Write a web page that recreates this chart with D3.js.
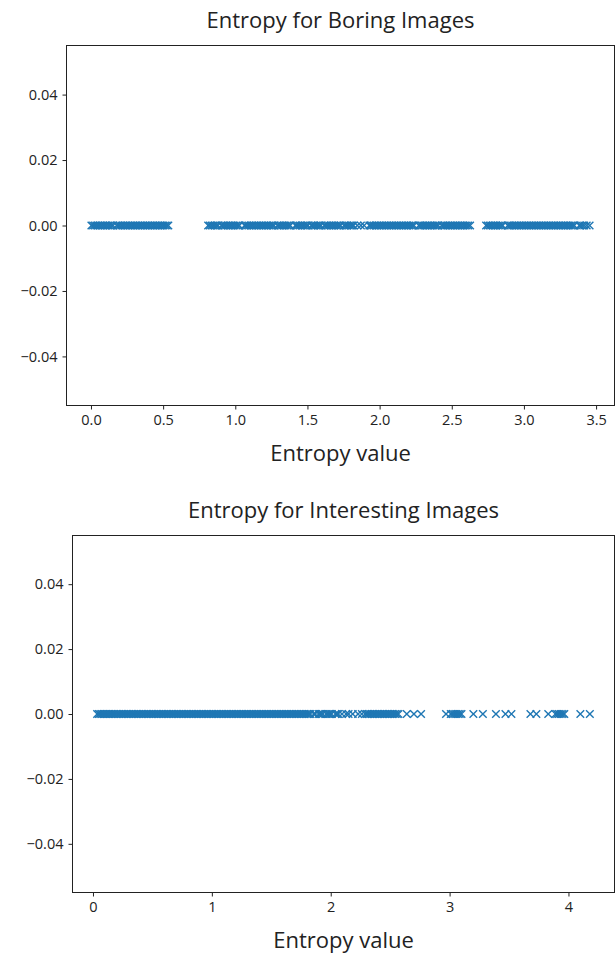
<!DOCTYPE html>
<html>
<head>
<meta charset="utf-8">
<script src="https://cdn.jsdelivr.net/npm/d3@7"></script>
<style>
  body { margin: 0; background: #fff; }
  text { font-family: "Open Sans", "Noto Sans", sans-serif; fill: #222; }
</style>
</head>
<body>
<div id="chart"></div>
<script>
// entropy values, boring images (all plotted at y = 0)
var boringEntropy = [
  0.003, 0.015, 0.027, 0.038, 0.050, 0.062, 0.073, 0.085, 0.097, 0.108, 0.120, 0.131, 0.143, 0.153,
  0.178, 0.188, 0.199, 0.211, 0.222, 0.234, 0.246, 0.257, 0.269, 0.281, 0.292, 0.304, 0.315, 0.327,
  0.339, 0.350, 0.362, 0.374, 0.385, 0.397, 0.408, 0.420, 0.432, 0.443, 0.455, 0.467, 0.478, 0.490,
  0.501, 0.513, 0.525, 0.536,
  0.812, 0.824, 0.836, 0.847, 0.859, 0.871, 0.880, 0.904, 0.914, 0.925, 0.937, 0.949, 0.960, 0.972,
  0.984, 0.995, 1.007, 1.019, 1.028, 1.064, 1.072, 1.083, 1.095, 1.107, 1.118, 1.130, 1.142, 1.153,
  1.165, 1.177, 1.188, 1.200, 1.212, 1.223, 1.235, 1.247, 1.258, 1.268, 1.292, 1.302, 1.313, 1.325,
  1.337, 1.348, 1.360, 1.372, 1.381, 1.416, 1.424, 1.435, 1.447, 1.459, 1.470, 1.482, 1.494, 1.503,
  1.527, 1.537, 1.548, 1.560, 1.572, 1.583, 1.593, 1.617, 1.627, 1.638, 1.650, 1.662, 1.673, 1.685,
  1.697, 1.708, 1.720, 1.730, 1.754, 1.764, 1.775, 1.787, 1.799, 1.810, 1.820, 1.846, 1.870, 1.893,
  1.929, 1.937, 1.948, 1.960, 1.972, 1.983, 1.995, 2.007, 2.018, 2.030, 2.042, 2.053, 2.065, 2.077,
  2.088, 2.100, 2.112, 2.123, 2.135, 2.147, 2.158, 2.170, 2.182, 2.193, 2.205, 2.217, 2.228, 2.238,
  2.272, 2.280, 2.292, 2.303, 2.315, 2.327, 2.338, 2.350, 2.362, 2.373, 2.385, 2.397, 2.406, 2.430,
  2.440, 2.452, 2.463, 2.475, 2.487, 2.498, 2.510, 2.522, 2.533, 2.545, 2.557, 2.568, 2.580, 2.592,
  2.603, 2.615, 2.627,
  2.738, 2.750, 2.762, 2.773, 2.785, 2.797, 2.808, 2.820, 2.832, 2.843, 2.853, 2.888, 2.896, 2.907,
  2.919, 2.931, 2.942, 2.954, 2.966, 2.977, 2.989, 3.001, 3.012, 3.024, 3.036, 3.047, 3.059, 3.071,
  3.082, 3.094, 3.106, 3.117, 3.129, 3.141, 3.152, 3.164, 3.176, 3.187, 3.199, 3.211, 3.222, 3.234,
  3.246, 3.257, 3.269, 3.281, 3.292, 3.304, 3.316, 3.327, 3.339, 3.349, 3.384, 3.392, 3.404, 3.418,
  3.435, 3.455
];

// entropy values, interesting images
var interestingEntropy = [
  0.035, 0.049, 0.062, 0.075, 0.088, 0.101, 0.114, 0.127, 0.140, 0.153, 0.166, 0.179, 0.193, 0.207,
  0.221, 0.235, 0.249, 0.263, 0.277, 0.291, 0.305, 0.319, 0.333, 0.347, 0.361, 0.375, 0.389, 0.403,
  0.417, 0.431, 0.445, 0.459, 0.473, 0.487, 0.501, 0.515, 0.529, 0.543, 0.557, 0.571, 0.585, 0.599,
  0.613, 0.627, 0.641, 0.655, 0.669, 0.683, 0.697, 0.711, 0.725, 0.739, 0.753, 0.767, 0.781, 0.795,
  0.809, 0.823, 0.837, 0.851, 0.865, 0.879, 0.893, 0.907, 0.921, 0.935, 0.949, 0.963, 0.977, 0.991,
  1.005, 1.019, 1.033, 1.047, 1.061, 1.075, 1.089, 1.103, 1.117, 1.131, 1.145, 1.159, 1.173, 1.187,
  1.201, 1.215, 1.229, 1.243, 1.257, 1.271, 1.285, 1.299, 1.313, 1.327, 1.341, 1.355, 1.369, 1.383,
  1.397, 1.411, 1.425, 1.439, 1.453, 1.467, 1.481, 1.495, 1.509, 1.523, 1.537, 1.551, 1.565, 1.579,
  1.593, 1.607, 1.621, 1.635, 1.649, 1.663, 1.677, 1.691, 1.705, 1.719, 1.733, 1.747, 1.761, 1.775,
  1.789, 1.803, 1.817, 1.829, 1.858, 1.870, 1.898, 1.910, 1.922, 1.934, 1.962, 1.974, 1.986, 1.998,
  2.008, 2.040, 2.052, 2.064, 2.095, 2.130, 2.150, 2.185, 2.230, 2.262,
  2.290, 2.304, 2.318, 2.332, 2.346, 2.360, 2.374, 2.388, 2.402, 2.416, 2.430, 2.444, 2.458, 2.472,
  2.486, 2.500, 2.514, 2.528, 2.542, 2.556, 2.570,
  2.640, 2.700, 2.760, 2.970, 3.010, 3.025, 3.040, 3.055, 3.070, 3.085, 3.100, 3.200, 3.280, 3.390,
  3.470, 3.520, 3.680, 3.730, 3.830, 3.890, 3.905, 3.920, 3.935, 3.950, 3.965, 4.100, 4.180
];

var yTicks = [-0.04, -0.02, 0.00, 0.02, 0.04];
var boringXTicks = [0.0, 0.5, 1.0, 1.5, 2.0, 2.5, 3.0, 3.5];
var interestingXTicks = [0, 1, 2, 3, 4];
var titles = ["Entropy for Boring Images", "Entropy for Interesting Images"];

var svg = d3.select("#chart")
  .append("svg")
    .attr("width", 615)
    .attr("height", 954);

// x marker shape, centred on 0,0
var r = 3.8;
var cross = "M" + (-r) + "," + (-r) + "L" + r + "," + r + "M" + (-r) + "," + r + "L" + r + "," + (-r);

function drawPanel(values, xTicks, xFormat, title, box) {
  // matplotlib style 5% padding on the data extent
  var ext = d3.extent(values);
  var pad = (ext[1] - ext[0]) * 0.05;
  var x = d3.scaleLinear()
    .domain([ext[0] - pad, ext[1] + pad])
    .range([box.left, box.right]);
  var y = d3.scaleLinear()
    .domain([-0.055, 0.055])
    .range([box.bottom, box.top]);

  var g = svg.append("g");

  // markers
  g.append("g")
    .selectAll("path")
    .data(values)
    .enter().append("path")
      .attr("d", cross)
      .attr("transform", function(d) { return "translate(" + x(d) + "," + y(0) + ")"; })
      .attr("fill", "none")
      .attr("stroke", "#1f77b4")
      .attr("stroke-width", 1.4);

  // axes
  var xAxis = g.append("g")
    .attr("transform", "translate(0," + box.bottom + ")")
    .call(d3.axisBottom(x).tickValues(xTicks).tickFormat(xFormat).tickSizeOuter(0).tickSize(4).tickPadding(5));
  var yAxis = g.append("g")
    .attr("transform", "translate(" + box.left + ",0)")
    .call(d3.axisLeft(y).tickValues(yTicks).tickFormat(function(d) { return d3.format(".2f")(d).replace("-", "\u2212"); }).tickSizeOuter(0).tickSize(4).tickPadding(5));
  [xAxis, yAxis].forEach(function(a) {
    a.select(".domain").remove();
    a.selectAll("line").attr("stroke", "#222");
    a.selectAll("text").attr("font-size", 14.5).attr("fill", "#222")
      .style("font-family", "\"Open Sans\", sans-serif");
  });

  // frame
  g.append("rect")
    .attr("x", box.left)
    .attr("y", box.top)
    .attr("width", box.right - box.left)
    .attr("height", box.bottom - box.top)
    .attr("fill", "none")
    .attr("stroke", "#222")
    .attr("stroke-width", 1);

  // title and label
  g.append("text")
    .attr("x", (box.left + box.right) / 2)
    .attr("y", box.top - 18)
    .attr("text-anchor", "middle")
    .attr("font-size", 22)
    .text(title);
  g.append("text")
    .attr("x", (box.left + box.right) / 2)
    .attr("y", box.bottom + 55)
    .attr("text-anchor", "middle")
    .attr("font-size", 22)
    .text("Entropy value");
}

drawPanel(boringEntropy, boringXTicks, d3.format(".1f"), titles[0],
  {left: 66.5, right: 614.5, top: 45.5, bottom: 405.5});
drawPanel(interestingEntropy, interestingXTicks, d3.format("d"), titles[1],
  {left: 72.5, right: 614.5, top: 535.5, bottom: 892.5});
</script>
</body>
</html>
